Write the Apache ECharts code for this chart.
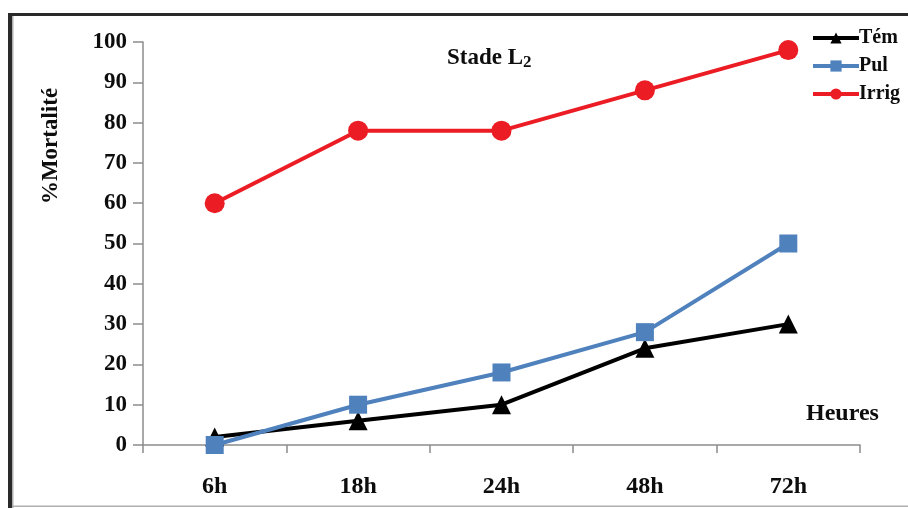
<!DOCTYPE html>
<html>
<head>
<meta charset="utf-8">
<script src="https://cdn.jsdelivr.net/npm/echarts@6/dist/echarts.min.js"></script>
<style>
  html, body { margin: 0; padding: 0; background: #fff; }
  #chart { width: 908px; height: 508px; }
</style>
</head>
<body>
<div id="chart"></div>
<script>
// Mortality (%) over time, stage L2
const hours = ['6h', '18h', '24h', '48h', '72h'];
const tem = [2, 6, 10, 24, 30];
const pul = [0, 10, 18, 28, 50];
const irrig = [60, 78, 78, 88, 98];
const yTicks = { min: 0, max: 100, interval: 10 };

const FONT = '"Liberation Serif", "Times New Roman", serif';
const AXIS_GREY = '#8c8c8c';
const INK = '#0d0d0d';

const chart = echarts.init(document.getElementById('chart'), null, { renderer: 'canvas' });

chart.setOption({
  backgroundColor: '#fff',
  animation: false,
  title: {
    text: '{a|Stade L}{b|2}',
    left: 442,
    top: 40,
    textStyle: {
      rich: {
        a: { fontFamily: FONT, fontWeight: 'bold', fontSize: 23, color: INK },
        b: { fontFamily: FONT, fontWeight: 'bold', fontSize: 17, color: INK, verticalAlign: 'bottom', padding: [9, 0, 0, 0] }
      }
    }
  },
  legend: {
    orient: 'vertical',
    left: 806,
    top: 23,
    itemWidth: 46,
    itemHeight: 14,
    itemGap: 8,
    lineStyle: { width: 4 },
    textStyle: { fontFamily: FONT, fontWeight: 'bold', fontSize: 20, color: INK, padding: [0, 0, 0, -5] },
    data: ['Tém', 'Pul', 'Irrig']
  },
  grid: { left: 143, right: 48, top: 42, bottom: 63, containLabel: false },
  xAxis: {
    type: 'category',
    data: hours,
    boundaryGap: true,
    axisLine: { lineStyle: { color: AXIS_GREY, width: 1.5 } },
    axisTick: { show: true, length: 8, lineStyle: { color: AXIS_GREY, width: 1.5 } },
    axisLabel: { margin: 30, fontFamily: FONT, fontWeight: 'bold', fontSize: 24, color: INK }
  },
  yAxis: {
    type: 'value',
    min: yTicks.min,
    max: yTicks.max,
    interval: yTicks.interval,
    axisLine: { show: true, lineStyle: { color: AXIS_GREY, width: 1.5 } },
    axisTick: { show: true, length: 10, lineStyle: { color: AXIS_GREY, width: 1.5 } },
    axisLabel: { margin: 16, fontFamily: FONT, fontWeight: 'bold', fontSize: 23, color: INK },
    splitLine: { show: false }
  },
  series: [
    {
      name: 'Tém', type: 'line', data: tem,
      symbol: 'triangle', symbolSize: 19,
      itemStyle: { color: '#000' },
      lineStyle: { color: '#000', width: 4 }
    },
    {
      name: 'Pul', type: 'line', data: pul,
      symbol: 'rect', symbolSize: 18,
      itemStyle: { color: '#4f81bd' },
      lineStyle: { color: '#4f81bd', width: 4 }
    },
    {
      name: 'Irrig', type: 'line', data: irrig,
      symbol: 'circle', symbolSize: 20,
      itemStyle: { color: '#ec1c24' },
      lineStyle: { color: '#ec1c24', width: 4 }
    }
  ],
  graphic: [
    // outer frame: heavy top and left edges, light bottom edge
    { type: 'rect', shape: { x: 8, y: 13, width: 900, height: 3 }, style: { fill: '#2a2a2a' }, silent: true },
    { type: 'rect', shape: { x: 8, y: 13, width: 4, height: 495 }, style: { fill: '#2a2a2a' }, silent: true },
    { type: 'rect', shape: { x: 12, y: 16, width: 1.5, height: 492 }, style: { fill: '#b0b0b0' }, silent: true },
    { type: 'rect', shape: { x: 12, y: 505.5, width: 896, height: 1.5 }, style: { fill: '#b0b0b0' }, silent: true },
    {
      type: 'text', x: 51, y: 146, rotation: Math.PI / 2,
      style: { text: '%Mortalité', fontFamily: FONT, fontWeight: 'bold', fontSize: 23, fill: INK, align: 'center', verticalAlign: 'middle' }
    },
    {
      type: 'text', x: 806, y: 414,
      style: { text: 'Heures', fontFamily: FONT, fontWeight: 'bold', fontSize: 24, fill: INK, verticalAlign: 'middle' }
    }
  ]
});
</script>
</body>
</html>
